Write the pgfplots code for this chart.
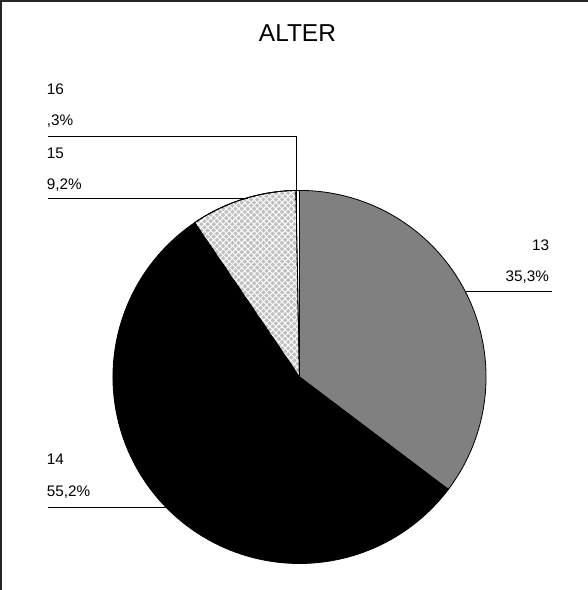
\documentclass[border=0pt]{standalone}
\usepackage{pgfplots}
\pgfplotsset{compat=1.18}
\usetikzlibrary{patterns.meta}
\usepackage{fontspec}
\setmainfont{Liberation Sans}
\definecolor{sliceA}{RGB}{128,128,128}
\definecolor{sliceC}{RGB}{192,192,192}
% shares in percent (13, 14, 15, 16), clockwise from 12 o'clock
\def\pA{35.3}\def\pB{55.2}\def\pC{9.2}\def\pD{0.3}
\pgfmathsetmacro{\aA}{90}
\pgfmathsetmacro{\aB}{\aA-3.6*\pA}
\pgfmathsetmacro{\aC}{\aB-3.6*\pB}
\pgfmathsetmacro{\aD}{\aC-3.6*\pC}
\pgfmathsetmacro{\aE}{\aD-3.6*\pD}
\def\cx{302}\def\cy{381}\def\R{183}
\tikzset{lab/.style={inner sep=0pt, font=\fontsize{15bp}{18bp}\selectfont}}
\begin{document}
\begin{tikzpicture}
\begin{axis}[
  width=585bp, height=590bp, scale only axis,
  xmin=0, xmax=585, ymin=0, ymax=590, y dir=reverse,
  hide axis, clip=true,
]
% slice 13
\addplot[fill=sliceA, draw=black, line width=0.8bp, domain=\aB:\aA, samples=120, variable=\t]
  ({\cx+\R*cos(\t)},{\cy-\R*sin(\t)}) -- (\cx,\cy) -- cycle;
% slice 14
\addplot[fill=black, draw=black, line width=0.8bp, domain=\aC:\aB, samples=160, variable=\t]
  ({\cx+\R*cos(\t)},{\cy-\R*sin(\t)}) -- (\cx,\cy) -- cycle;
% slice 15
\addplot[fill=sliceC, postaction={pattern={Lines[angle=45,distance=4.3bp,line width=0.9bp]}, pattern color=white},
  postaction={pattern={Lines[angle=-45,distance=4.3bp,line width=0.9bp]}, pattern color=white},
  draw=black, line width=0.8bp, domain=\aD:\aC, samples=40, variable=\t]
  ({\cx+\R*cos(\t)},{\cy-\R*sin(\t)}) -- (\cx,\cy) -- cycle;
% slice 16
\addplot[fill=white, draw=black, line width=0.8bp, domain=\aE:\aD, samples=5, variable=\t]
  ({\cx+\R*cos(\t)},{\cy-\R*sin(\t)}) -- (\cx,\cy) -- cycle;

% frame
\draw[line width=1.6bp, black!85] (axis cs:9,590) -- (axis cs:9,12) -- (axis cs:585,12);
% leader lines
\draw[line width=1.1bp] (axis cs:465,297) -- (axis cs:550,297);
\draw[line width=1.1bp] (axis cs:55,509) -- (axis cs:172,509);
\draw[line width=1.1bp] (axis cs:55,206) -- (axis cs:251,206);
\draw[line width=1.1bp] (axis cs:55,145) -- (axis cs:299,145) -- (axis cs:299,242);

% title
\node[anchor=base, inner sep=0pt, font=\fontsize{24bp}{28bp}\selectfont] at (axis cs:300,52) {ALTER};
% labels
\node[lab, anchor=base east] at (axis cs:547,257) {13};
\node[lab, anchor=base east] at (axis cs:547,287) {35,3\%};
\node[lab, anchor=base west] at (axis cs:54,467) {14};
\node[lab, anchor=base west] at (axis cs:54,498) {55,2\%};
\node[lab, anchor=base west] at (axis cs:54,167) {15};
\node[lab, anchor=base west] at (axis cs:54,197) {9,2\%};
\node[lab, anchor=base west] at (axis cs:54,104) {16};
\node[lab, anchor=base west] at (axis cs:54,134) {,3\%};
\end{axis}
\end{tikzpicture}
\end{document}
